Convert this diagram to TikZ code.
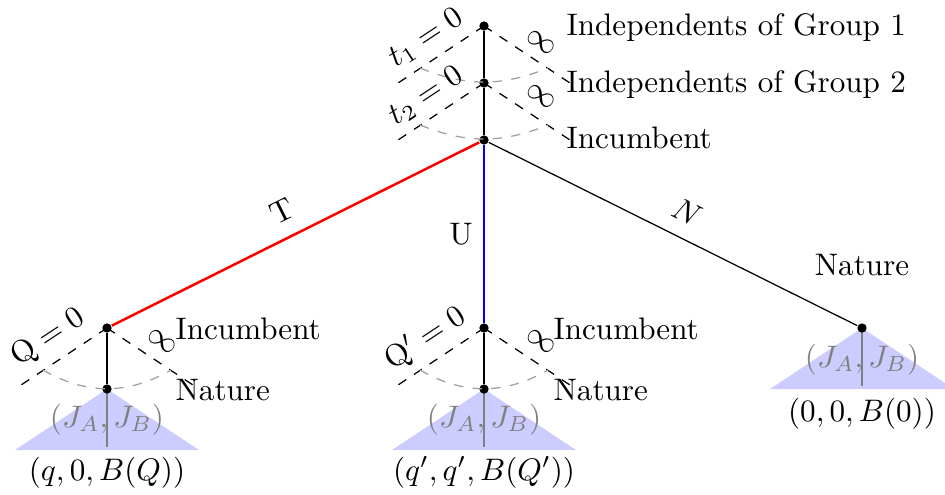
\documentclass[tikz,border=0pt]{standalone}
\usetikzlibrary{calc}
\begin{document}
\begin{tikzpicture}[x=0.3215pt,y=-0.3215pt,
  dot/.style={circle,fill=black,inner sep=0pt,minimum size=3pt},
  infoline/.style={dashed},
  infoarc/.style={dashed,gray!75},
  subtree/.style={fill=blue!20,draw=none},
  subline/.style={gray,line width=0.4pt},
  subtext/.style={text=gray,inner sep=0pt},
  lbl/.style={inner sep=0pt},
  tedge/.style={red,thick},
  uedge/.style={blue,thick},
  nedge/.style={black}]
\useasboundingbox (0,0) rectangle (945,494);

% subtrees (triangles)
\coordinate (L2c) at (107,389);
\coordinate (M2c) at (484,389);
\coordinate (Rc) at (862,328);
\fill[subtree] (L2c) -- ++(-92,61) -- ++(184,0) -- cycle;
\fill[subtree] (M2c) -- ++(-92,61) -- ++(184,0) -- cycle;
\fill[subtree] (Rc) -- ++(-92,61) -- ++(184,0) -- cycle;
\coordinate (L2b) at (107,447);
\coordinate (M2b) at (484,447);
\coordinate (Rb) at (862,386);
\draw[subline] (L2c) -- (L2b);
\draw[subline] (M2c) -- (M2b);
\draw[subline] (Rc) -- (Rb);
\node[subtext,anchor=base] (jl) at (107,427) {$(J_A,J_B)$};
\node[subtext,anchor=base] (jm) at (484,427) {$(J_A,J_B)$};
\node[subtext,anchor=base] (jr) at (862,367) {$(J_A,J_B)$};

% nodes
\node[dot] (A) at (484,26) {};
\node[dot] (B) at (484,83) {};
\node[dot] (C) at (484,140) {};
\node[dot] (L1) at (107,328) {};
\node[dot] (L2) at (107,389) {};
\node[dot] (M1) at (484,328) {};
\node[dot] (M2) at (484,389) {};
\node[dot] (R) at (862,328) {};

% information cones
\foreach \n in {A,B,L1,M1}{
  \draw[infoline] (\n.center) -- ++(-86,57);
  \draw[infoline] (\n.center) -- ++(86,57);
}
\draw[infoarc] ($(A)+(-64,42)$) to[bend right=22] ($(A)+(64,42)$);
\draw[infoarc] ($(B)+(-64,42)$) to[bend right=22] ($(B)+(64,42)$);
\draw[infoarc] ($(L1)+(-64,42)$) to[bend right=30] ($(L1)+(64,42)$);
\draw[infoarc] ($(M1)+(-64,42)$) to[bend right=30] ($(M1)+(64,42)$);

% edges
\draw (A) -- (B);
\draw (B) -- (C);
\draw (L1) -- (L2);
\draw (M1) -- (M2);
\draw[tedge] (C) -- (L1);
\draw[uedge] (C) -- (M1);
\draw[nedge] (C) -- (R);

% edge labels
\node[lbl,rotate=26.4] (tl) at (282,211) {T};
\node[lbl] (ul) at (461,234) {U};
\node[lbl,rotate=-26.3] (nl) at (687,212) {$N$};

% cone labels
\node[lbl,rotate=33.5] (t1) at (426,38) {$t_1=0$};
\node[lbl,rotate=33.5] (t2) at (426,96) {$t_2=0$};
\node[lbl,rotate=-33.5] (i1) at (541,42) {$\infty$};
\node[lbl,rotate=-33.5] (i2) at (541,96) {$\infty$};
\node[lbl,rotate=33.5] (q1) at (48,338) {$\mathrm{Q}=0$};
\node[lbl,rotate=33.5] (q2) at (425,338) {$\mathrm{Q}'=0$};
\node[lbl,rotate=-33.5] (i3) at (162,341) {$\infty$};
\node[lbl,rotate=-33.5] (i4) at (541,341) {$\infty$};

% player labels
\node[lbl,anchor=base west] (g1) at (566,35) {Independents of Group 1};
\node[lbl,anchor=base west] (g2) at (566,92) {Independents of Group 2};
\node[lbl,anchor=base west] (inc) at (566,148) {Incumbent};
\node[lbl,anchor=base west] (incl) at (175,339) {Incumbent};
\node[lbl,anchor=base west] (natl) at (175,400) {Nature};
\node[lbl,anchor=base west] (incm) at (553,339) {Incumbent};
\node[lbl,anchor=base west] (natm) at (553,400) {Nature};
\node[lbl,anchor=base] (natr) at (862,275) {Nature};

% payoffs
\node[lbl,anchor=base] (pl) at (107,480) {$(q,0,B(Q))$};
\node[lbl,anchor=base] (pm) at (484,480) {$(q',q',B(Q'))$};
\node[lbl,anchor=base] (pr) at (862,421) {$(0,0,B(0))$};
\end{tikzpicture}
\end{document}
